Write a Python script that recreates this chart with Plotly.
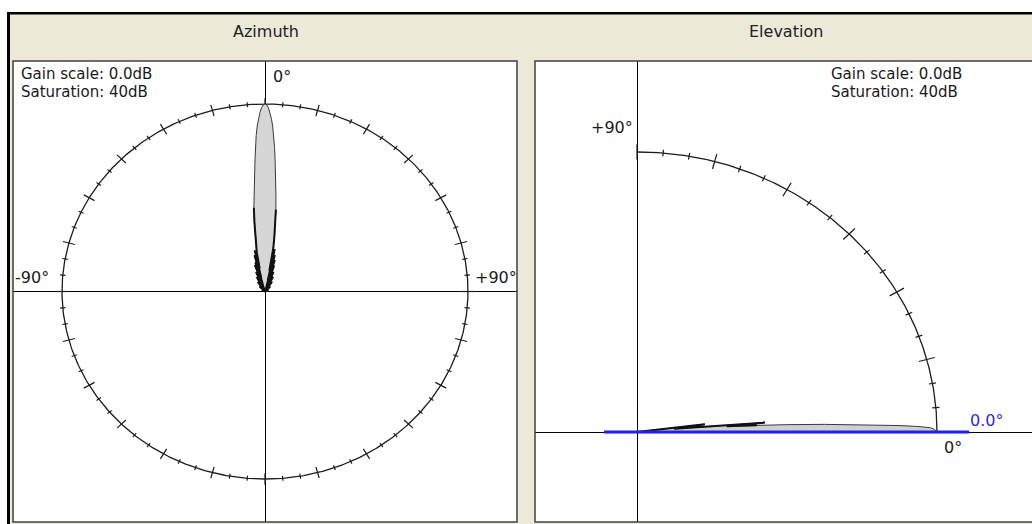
import numpy as np
import plotly.graph_objects as go

W, H = 1032, 524

# Azimuth cut: angle from boresight (deg, clockwise positive) and gain (dB re peak)
az_angle_deg = [-180, -90, -74, -60, -52, -46, -40, -35, -31, -28, -25, -23, -21,
                -19.5, -18, -17, -16, -15, -14, -13, -12, -11, -10, -9, -8, -7, -6,
                -5, -4.5, -4, -3.5, -3, -2.5, -2, -1.5, -1, -0.5,
                0, 0.5, 1, 1.5, 2, 2.5, 3, 3.5, 4, 4.5, 5, 6, 7, 8, 9, 10,
                11, 12, 13, 14, 15, 16, 17, 18, 20, 22, 24, 27, 30, 34, 38, 44,
                50, 58, 66, 90, 180]
az_gain_db = [-40, -40, -40, -39.3, -40, -38.5, -40, -37.5, -40, -36.5, -40, -35.5, -40,
              -34.0, -39.5, -33.5, -38.5, -32.0, -37.0, -31.0, -35.0, -31.5, -30.0, -27.8,
              -25.0, -22.0, -19.2, -16.2, -14.2, -11.8, -9.0, -6.7, -4.7, -3.1, -1.8, -0.8, -0.2,
              0.0, -0.2, -0.8, -1.9, -3.2, -4.9, -6.9, -9.2, -11.6, -13.9, -16.0, -19.4, -22.4,
              -25.3, -28.2, -30.6, -35.5, -30.8, -37.5, -32.0, -39.0, -33.0, -39.5, -34.2,
              -40, -35.5, -40, -36.5, -40, -37.5, -40, -38.5, -40, -39.2, -40, -40, -40]

# Elevation cut: angle above horizon (deg) and gain (dB re peak)
el_angle_deg = [0, 0.5, 0.9, 1.2, 1.5, 2.0, 2.5, 3.0, 3.5, 4.0, 4.5, 5.2, 6.9, 8.0, 90]
el_gain_db = [0.0, -0.3, -0.9, -2.5, -4.9, -10.0, -15.0, -20.0, -24.0, -28.0, -22.9,
              -35.0, -30.9, -40, -40]

gain_scale_db = 0.0
saturation_db = 40
tilt_deg = 0.0

# scale graduations (deg)
az_ticks = list(range(-180, 180, 5))
el_ticks = list(range(0, 95, 5))
major_step = 15

INK = "#1c1c1c"
FONT = "DejaVu Sans"
PANEL = "#ece9d8"


def radius(gain):
    g = np.asarray(gain, dtype=float) + gain_scale_db + saturation_db
    return np.clip(g / saturation_db, 0, None)


def px(x, y):
    return x / W, 1 - y / H


fig = go.Figure()

# ---------------- Azimuth panel ----------------
t = np.radians(np.linspace(-180, 180, 721))
fig.add_trace(go.Scatter(x=np.sin(t), y=np.cos(t), mode="lines",
                         line=dict(color=INK, width=1.3), hoverinfo="skip",
                         xaxis="x", yaxis="y"))
tx, ty = [], []
for a in az_ticks:
    d = 6 / 195 if a % major_step == 0 else 2.6 / 195
    s, c = np.sin(np.radians(a)), np.cos(np.radians(a))
    tx += [(1 - d) * s, (1 + d) * s, None]
    ty += [(1 - d) * c, (1 + d) * c, None]
fig.add_trace(go.Scatter(x=tx, y=ty, mode="lines", line=dict(color=INK, width=1.2),
                         hoverinfo="skip", xaxis="x", yaxis="y"))

az_r = radius(az_gain_db)
az_th = np.radians(az_angle_deg)
az_x = az_r * np.sin(az_th)
az_y = az_r * np.cos(az_th)
fig.add_trace(go.Scatter(x=az_x, y=az_y, mode="lines", fill="toself",
                         fillcolor="#d6d6d6", line=dict(color="#3a3a3a", width=1),
                         hoverinfo="skip", xaxis="x", yaxis="y"))
# side-lobe region outlined in black
side = np.abs(np.asarray(az_angle_deg)) >= 7
sx = np.where(side, az_x, np.nan)
sy = np.where(side, az_y, np.nan)
fig.add_trace(go.Scatter(x=sx, y=sy, mode="lines", connectgaps=False,
                         line=dict(color="#111111", width=2),
                         hoverinfo="skip", xaxis="x", yaxis="y"))

# ---------------- Elevation panel ----------------
e = np.radians(np.linspace(0, 90, 181))
fig.add_trace(go.Scatter(x=np.cos(e), y=np.sin(e), mode="lines",
                         line=dict(color=INK, width=1.3), hoverinfo="skip",
                         xaxis="x2", yaxis="y2"))
tx, ty = [], []
for a in el_ticks:
    d = 8 / 290 if a % major_step == 0 else 3.5 / 290
    c, s = np.cos(np.radians(a)), np.sin(np.radians(a))
    tx += [(1 - d) * c, (1 + d) * c, None]
    ty += [(1 - d) * s, (1 + d) * s, None]
fig.add_trace(go.Scatter(x=tx, y=ty, mode="lines", line=dict(color=INK, width=1.2),
                         hoverinfo="skip", xaxis="x2", yaxis="y2"))

el_r = radius(el_gain_db)
el_th = np.radians(el_angle_deg)
el_x = el_r * np.cos(el_th)
el_y = el_r * np.sin(el_th)
fig.add_trace(go.Scatter(x=el_x, y=el_y, mode="lines", fill="toself",
                         fillcolor="#d0d0d0", line=dict(color="#3a3a3a", width=1),
                         hoverinfo="skip", xaxis="x2", yaxis="y2"))
side = np.asarray(el_angle_deg) >= 3.5
fig.add_trace(go.Scatter(x=np.where(side, el_x, np.nan), y=np.where(side, el_y, np.nan),
                         mode="lines", line=dict(color="#111111", width=2),
                         hoverinfo="skip", xaxis="x2", yaxis="y2"))

# tilt indicator
tr = np.array([-0.11, 1.107])
fig.add_trace(go.Scatter(x=tr * np.cos(np.radians(tilt_deg)), y=tr * np.sin(np.radians(tilt_deg)),
                         mode="lines", line=dict(color="#1f1fff", width=3),
                         hoverinfo="skip", xaxis="x2", yaxis="y2"))

# ---------------- axes ----------------
ax_common = dict(showgrid=False, showticklabels=False, ticks="", showline=False,
                 zeroline=True, zerolinecolor="#000000", zerolinewidth=1, fixedrange=True)
fig.update_layout(
    xaxis=dict(domain=[13 / W, 517 / W], range=[(13 - 265) / 203, (517 - 265) / 203], **ax_common),
    yaxis=dict(domain=[1 - 522 / H, 1 - 61 / H], range=[(291.5 - 522) / 187.5, (291.5 - 61) / 187.5],
               **ax_common),
    xaxis2=dict(domain=[535 / W, 1.0], range=[(535 - 637) / 300, (1032 - 637) / 300], anchor="y2",
                **ax_common),
    yaxis2=dict(domain=[1 - 522 / H, 1 - 61 / H], range=[(432 - 522) / 280, (432 - 61) / 280],
                anchor="x2", **ax_common),
)

# ---------------- frame ----------------
def rect(x0, y0, x1, y1, **kw):
    a0, b0 = px(x0, y0)
    a1, b1 = px(x1, y1)
    return dict(type="rect", xref="paper", yref="paper", x0=a0, y0=b0, x1=a1, y1=b1, **kw)


shapes = [
    rect(0, 0, 1032, 12, fillcolor="#ffffff", line=dict(width=0), layer="below"),
    rect(0, 0, 7, 524, fillcolor="#ffffff", line=dict(width=0), layer="below"),
    rect(7, 12, 1032, 14.5, fillcolor="#000000", line=dict(width=0), layer="above"),
    rect(7, 12, 10, 524, fillcolor="#000000", line=dict(width=0), layer="above"),
    rect(13, 61, 517, 522, line=dict(color="#404040", width=1.5), layer="above"),
    rect(535, 61, 1045, 522, line=dict(color="#404040", width=1.5), layer="above"),
]


def label(text, x, y, xanchor="left", color="#1a1a1a", size=16):
    a, b = px(x, y)
    return dict(text=text, x=a, y=b, xref="paper", yref="paper", xanchor=xanchor,
                yanchor="middle", showarrow=False, borderpad=0,
                font=dict(family=FONT, size=size, color=color))


annotations = [
    label("Azimuth", 266, 32, "center", "#222222"),
    label("Elevation", 786, 32, "center", "#222222"),
    label(f"Gain scale: {gain_scale_db:.1f}dB", 20, 74, size=15),
    label(f"Saturation: {saturation_db}dB", 20, 92, size=15),
    label(f"Gain scale: {gain_scale_db:.1f}dB", 830, 74, size=15),
    label(f"Saturation: {saturation_db}dB", 830, 92, size=15),
    label("0°", 272, 76),
    label("-90°", 14, 277),
    label("+90°", 474, 277),
    label("+90°", 634, 128, "right"),
    label("0°", 943, 447),
    label(f"{tilt_deg:.1f}°", 969, 420, color="#2a2af0"),
]

fig.update_layout(width=W, height=H, margin=dict(l=0, r=0, t=0, b=0),
                  paper_bgcolor=PANEL, plot_bgcolor="white", showlegend=False,
                  shapes=shapes, annotations=annotations)

fig.write_html("out.html")
